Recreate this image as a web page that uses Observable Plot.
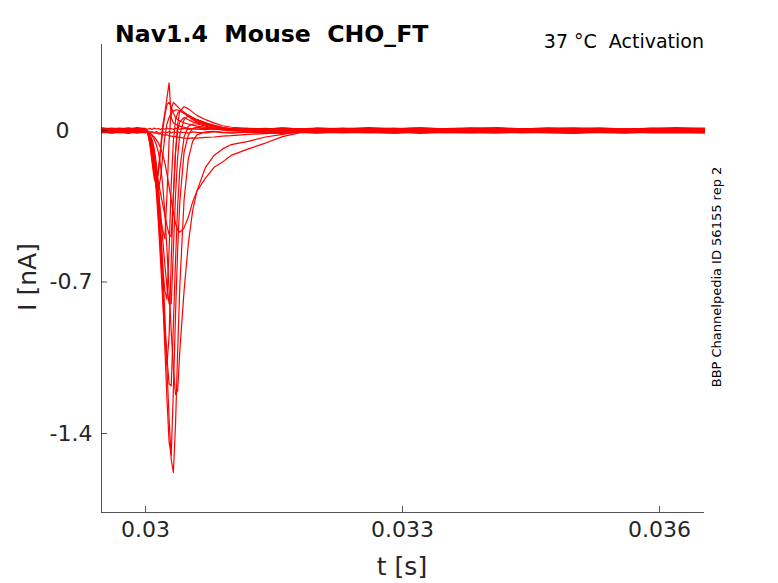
<!DOCTYPE html>
<html><head><meta charset="utf-8">
<script src="https://cdn.jsdelivr.net/npm/d3@7"></script>
<script src="https://cdn.jsdelivr.net/npm/@observablehq/plot@0.6"></script>
<style>
body{margin:0;background:#fff;}
#wrap{position:relative;width:778px;height:583px;font-family:"DejaVu Sans",sans-serif;}
#wrap > svg{position:absolute;left:0;top:0;}
#wrap text.ov{white-space:pre;}
</style></head><body><div id="wrap"></div>
<script>
// time samples [s]
const time = [0.029486, 0.0296, 0.0297, 0.0298, 0.0299, 0.03,
  0.030025, 0.03005, 0.030075, 0.0301, 0.030125, 0.03015, 0.030175, 0.0302, 0.030225, 0.03025, 0.030275, 0.0303, 0.030325, 0.03035, 0.030375, 0.0304,
  0.03045, 0.0305, 0.03055, 0.0306, 0.0307, 0.0308, 0.0309, 0.031, 0.0312, 0.0314, 0.0316, 0.0318,
  0.032, 0.0323, 0.0326, 0.0329, 0.0332, 0.0335, 0.0338, 0.0341, 0.0344, 0.0347, 0.035, 0.0353, 0.0356, 0.0359, 0.0362, 0.036525];

// current sweeps [nA]
const sweep01 = [0.011,0.005,0.009,0.006,0.010,0.004,
  0.006,0.010,0.005,0.011,0.007,0.009,0.004,0.010,0.006,0.012,0.007,0.009,0.005,0.011,0.008,0.006,
  0.010,0.005,0.009,0.007,0.011,0.006,0.009,0.004,0.010,0.007,0.012,0.006,
  0.006,0.011,0.007,0.010,0.005,0.009,0.012,0.006,0.008,0.011,0.005,0.009,0.007,0.010,0.006,0.009];
const sweep02 = [-0.005,-0.011,-0.007,-0.010,-0.006,-0.009,
  -0.006,-0.011,-0.007,-0.010,-0.005,-0.009,-0.012,-0.006,-0.008,-0.010,-0.005,-0.011,-0.007,-0.009,-0.006,-0.010,
  -0.008,-0.012,-0.006,-0.009,-0.011,-0.005,-0.010,-0.007,-0.009,-0.012,-0.006,-0.008,
  -0.010,-0.005,-0.009,-0.012,-0.006,-0.008,-0.011,-0.005,-0.009,-0.007,-0.011,-0.006,-0.010,-0.008,-0.005,-0.009];
const sweep03 = [0.002,0.006,0.003,0.007,0.001,0.004,
  -0.003,-0.007,-0.006,-0.011,-0.012,-0.016,-0.015,-0.019,-0.021,-0.020,-0.025,-0.026,-0.028,-0.027,-0.031,-0.032,
  -0.035,-0.036,-0.034,-0.035,-0.032,-0.030,-0.026,-0.024,-0.018,-0.014,-0.010,-0.006,
  0.001,0.005,0.003,0.007,0.002,0.006,0.004,0.001,0.006,0.003,0.007,0.002,0.005,0.003,0.006,0.002];
const sweep04 = [-0.006,-0.002,-0.005,-0.001,-0.006,-0.003,
  -0.005,-0.012,-0.020,-0.030,-0.042,-0.058,-0.080,-0.110,-0.150,-0.200,-0.260,-0.320,-0.380,-0.430,-0.460,-0.470,
  -0.450,-0.400,-0.330,-0.280,-0.220,-0.170,-0.145,-0.115,-0.085,-0.058,-0.028,-0.010,
  -0.002,-0.006,-0.003,-0.007,-0.001,-0.005,-0.003,-0.006,-0.002,-0.005,-0.007,-0.003,-0.004,-0.001,-0.006,-0.003];
const sweep05 = [0.012,0.008,0.011,0.007,0.013,0.009,
  -0.006,-0.012,-0.022,-0.040,-0.065,-0.100,-0.160,-0.250,-0.380,-0.550,-0.740,-0.930,-1.100,-1.220,-1.200,-1.020,
  -0.740,-0.520,-0.370,-0.280,-0.170,-0.115,-0.085,-0.065,-0.050,-0.030,-0.018,-0.004,
  0.011,0.008,0.013,0.009,0.012,0.007,0.010,0.013,0.008,0.011,0.009,0.012,0.007,0.010,0.013,0.009];
const sweep06 = [-0.008,-0.012,-0.009,-0.013,-0.007,-0.011,
  -0.005,-0.020,-0.040,-0.080,-0.150,-0.260,-0.420,-0.620,-0.850,-1.100,-1.330,-1.520,-1.580,-1.360,-1.020,-0.720,
  -0.320,-0.130,-0.050,-0.020,-0.006,-0.004,-0.009,-0.012,-0.008,-0.011,-0.013,-0.009,
  -0.012,-0.008,-0.011,-0.007,-0.013,-0.009,-0.010,-0.012,-0.008,-0.011,-0.013,-0.009,-0.007,-0.011,-0.010,-0.012];
const sweep07 = [0.000,0.004,0.001,0.005,-0.001,0.003,
  -0.006,-0.020,-0.050,-0.100,-0.190,-0.330,-0.520,-0.750,-1.000,-1.240,-1.440,-1.500,-1.200,-0.850,-0.550,-0.330,
  -0.100,-0.020,0.010,0.015,0.010,0.006,0.003,0.000,0.004,0.001,0.005,0.002,
  0.004,0.000,0.003,-0.001,0.005,0.002,0.000,0.004,0.001,0.005,-0.001,0.003,0.002,0.004,0.000,0.003];
const sweep08 = [-0.004,0.000,-0.003,0.001,-0.005,-0.001,
  -0.006,-0.020,-0.060,-0.120,-0.220,-0.360,-0.530,-0.720,-0.900,-1.050,-1.170,-1.180,-0.900,-0.600,-0.350,-0.180,
  -0.030,0.020,0.030,0.030,0.020,0.010,0.004,0.000,-0.004,-0.001,-0.003,0.000,
  0.000,-0.004,-0.001,-0.005,0.001,-0.003,-0.002,0.000,-0.004,-0.001,-0.005,0.001,-0.003,-0.002,-0.004,0.000];
const sweep09 = [0.004,0.008,0.005,0.009,0.003,0.007,
  -0.008,-0.030,-0.080,-0.160,-0.280,-0.430,-0.600,-0.780,-0.950,-1.080,-0.950,-0.600,-0.300,-0.100,0.000,0.040,
  0.060,0.050,0.040,0.035,0.025,0.015,0.010,0.008,0.004,0.007,0.005,0.008,
  0.008,0.004,0.007,0.003,0.009,0.005,0.006,0.008,0.004,0.007,0.009,0.005,0.003,0.007,0.006,0.008];
const sweep10 = [-0.008,-0.004,-0.007,-0.003,-0.009,-0.005,
  -0.006,-0.020,-0.050,-0.100,-0.170,-0.270,-0.380,-0.500,-0.620,-0.720,-0.800,-0.800,-0.550,-0.300,-0.120,-0.020,
  0.050,0.070,0.060,0.050,0.035,0.020,0.010,0.004,-0.003,-0.007,-0.004,-0.008,
  -0.004,-0.008,-0.005,-0.009,-0.003,-0.007,-0.006,-0.004,-0.008,-0.005,-0.003,-0.007,-0.009,-0.005,-0.006,-0.004];
const sweep11 = [0.002,-0.002,0.003,-0.001,0.002,-0.003,
  -0.008,-0.030,-0.080,-0.150,-0.250,-0.370,-0.500,-0.630,-0.740,-0.780,-0.550,-0.250,-0.050,0.050,0.080,0.090,
  0.080,0.070,0.055,0.045,0.030,0.020,0.012,0.008,0.003,-0.002,0.002,-0.001,
  -0.002,0.003,-0.001,0.002,-0.003,0.001,0.003,-0.002,0.000,0.002,-0.003,0.001,-0.001,0.003,-0.002,0.001];
const sweep12 = [0.007,0.011,0.008,0.012,0.006,0.010,
  -0.008,-0.030,-0.070,-0.120,-0.180,-0.240,-0.290,-0.340,-0.390,-0.440,-0.480,-0.490,-0.300,-0.100,0.030,0.090,
  0.110,0.100,0.085,0.070,0.050,0.035,0.022,0.015,0.010,0.007,0.011,0.008,
  0.011,0.007,0.010,0.006,0.012,0.008,0.009,0.011,0.007,0.010,0.012,0.008,0.006,0.010,0.009,0.011];
const sweep13 = [-0.011,-0.007,-0.010,-0.006,-0.012,-0.008,
  -0.010,-0.040,-0.100,-0.180,-0.260,-0.330,-0.400,-0.460,-0.500,-0.300,-0.050,0.100,0.130,0.120,0.110,0.100,
  0.085,0.070,0.060,0.050,0.035,0.025,0.015,0.008,-0.002,-0.006,-0.010,-0.008,
  -0.007,-0.011,-0.008,-0.012,-0.006,-0.010,-0.009,-0.007,-0.011,-0.008,-0.006,-0.010,-0.012,-0.008,-0.009,-0.007];
const sweep14 = [0.005,0.001,0.004,0.000,0.006,0.002,
  -0.010,-0.050,-0.120,-0.200,-0.250,-0.270,-0.220,-0.120,-0.030,0.030,0.060,0.080,0.090,0.095,0.095,0.090,
  0.080,0.065,0.050,0.040,0.030,0.020,0.012,0.006,0.002,0.005,0.001,0.004,
  0.001,0.005,0.002,0.006,0.000,0.004,0.003,0.001,0.005,0.002,0.006,0.000,0.004,0.003,0.005,0.001];
const sweep15 = [-0.001,-0.005,-0.002,-0.006,0.000,-0.004,
  -0.010,-0.060,-0.140,-0.220,-0.250,-0.200,-0.100,0.000,0.070,0.120,0.130,0.110,0.080,0.060,0.050,0.045,
  0.035,0.030,0.025,0.020,0.015,0.010,0.004,0.000,-0.004,-0.002,-0.005,-0.001,
  -0.005,-0.001,-0.004,0.000,-0.006,-0.002,-0.003,-0.005,-0.001,-0.004,-0.006,-0.002,0.000,-0.004,-0.003,-0.005];
const sweep16 = [0.009,0.005,0.008,0.004,0.010,0.006,
  -0.010,-0.060,-0.130,-0.200,-0.220,-0.180,-0.080,0.020,0.080,0.150,0.220,0.060,0.035,0.030,0.025,0.020,
  0.015,0.010,0.008,0.006,0.004,0.009,0.005,0.008,0.006,0.010,0.005,0.008,
  0.005,0.009,0.006,0.010,0.004,0.008,0.007,0.005,0.009,0.006,0.010,0.004,0.008,0.007,0.009,0.005];

const sweeps = [sweep01, sweep02, sweep03, sweep04, sweep05, sweep06, sweep07, sweep08,
  sweep09, sweep10, sweep11, sweep12, sweep13, sweep14, sweep15, sweep16];

const xTicks = [0.03, 0.033, 0.036];
const yTicks = [0, -0.7, -1.4];
const xDomain = [0.029486, 0.036525];
const yDomain = [-1.765, 0.3974];

const titleText = "Nav1.4  Mouse  CHO_FT";
const cornerText = "37 °C  Activation";
const xLabel = "t [s]";
const yLabel = "I [nA]";
const sideText = "BBP Channelpedia ID 56155 rep 2";

const rows = sweeps.flatMap((s, k) => s.map((v, i) => ({t: time[i], I: v, sweep: k})));

const plot = Plot.plot({
  width: 778, height: 583,
  marginLeft: 101, marginRight: 74, marginTop: 44, marginBottom: 71,
  style: {fontFamily: "DejaVu Sans", fontSize: "22px", color: "#262626", background: "white", overflow: "visible"},
  x: {domain: xDomain},
  y: {domain: yDomain},
  marks: [
    Plot.line(rows, {x: "t", y: "I", z: "sweep", stroke: "#ff0000", strokeWidth: 1.2}),
    Plot.ruleY([yDomain[0]], {stroke: "#262626", strokeWidth: 0.8}),
    Plot.ruleX([xDomain[0]], {stroke: "#262626", strokeWidth: 0.8}),
    Plot.axisX(xTicks, {tickSize: -6, tickFormat: d => String(d), label: null, strokeWidth: 0.8}),
    Plot.axisY(yTicks, {tickSize: -6, tickFormat: d => d === 0 ? "" : String(d), label: null, strokeWidth: 0.8}),
    Plot.axisY(yTicks.filter(d => d === 0), {tickSize: 0, tickPadding: 32, tickFormat: d => String(d), label: null})
  ]
});

const wrap = document.getElementById("wrap");
wrap.appendChild(plot);

const ov = d3.select(wrap).append("svg")
  .attr("width", 778).attr("height", 583)
  .style("font-family", "'DejaVu Sans', sans-serif");
ov.append("text").attr("class", "ov").attr("xml:space", "preserve").attr("x", 115).attr("y", 42)
  .attr("font-size", 23.6).attr("font-weight", "bold").attr("fill", "#000").text(titleText);
ov.append("text").attr("class", "ov").attr("xml:space", "preserve").attr("x", 704).attr("y", 48).attr("text-anchor", "end")
  .attr("font-size", 19).attr("fill", "#000").text(cornerText);
ov.append("text").attr("class", "ov").attr("x", 402).attr("y", 575).attr("text-anchor", "middle")
  .attr("font-size", 25).attr("fill", "#262626").text(xLabel);
ov.append("text").attr("class", "ov").attr("transform", "translate(36,277) rotate(-90)").attr("text-anchor", "middle")
  .attr("font-size", 25).attr("fill", "#262626").text(yLabel);
ov.append("text").attr("class", "ov").attr("transform", "translate(721,277) rotate(-90)").attr("text-anchor", "middle")
  .attr("font-size", 13).attr("fill", "#000").text(sideText);
</script></body></html>
